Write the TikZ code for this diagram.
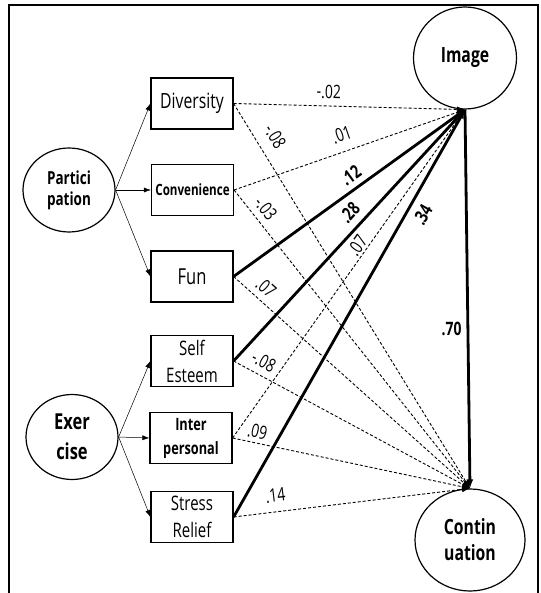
\documentclass[tikz,border=0pt]{standalone}
\usepackage{fontspec}
\setmainfont{Open Sans}[FakeStretch=0.75]
\usetikzlibrary{arrows.meta,shapes.geometric}

\tikzset{
  box/.style={draw,line width=1.2pt,minimum width=82pt,minimum height=51pt,inner sep=0pt,align=center},
  latent/.style={draw,ellipse,line width=1.2pt,inner sep=0pt,align=center,font=\bfseries},
  thin arrow/.style={-{Latex[length=7pt,width=5pt]},line width=0.5pt},
  ns/.style={dashed,dash pattern=on 3pt off 2pt,line width=0.9pt,-{Latex[length=8pt,width=6pt]}},
  sig/.style={line width=2.8pt,-{Latex[length=9pt,width=7pt]}},
  coef/.style={sloped,inner sep=1pt,font=\fontsize{18.5}{18.5}\selectfont},
  bcoef/.style={coef,font=\fontsize{18.5}{18.5}\selectfont\bfseries}
}

\begin{document}
\begin{tikzpicture}[x=1pt,y=-1pt]
  \useasboundingbox (0,0) rectangle (540,593);
  % frame
  \draw[line width=1.3pt] (9,600) -- (9,5) -- (538,5) -- (538,600);

  % latent variables
  \node[latent,minimum width=92pt,minimum height=84pt,font=\fontsize{18}{21}\selectfont\bfseries] (part) at (69,190) {Partici\\pation};
  \node[latent,minimum width=92pt,minimum height=85pt,font=\fontsize{22}{30}\selectfont\bfseries] (exer) at (72,437) {Exer\\cise};
  \node[latent,minimum width=103pt,minimum height=102pt,font=\fontsize{21}{21}\selectfont\bfseries] (img) at (465,58) {Image};
  \node[latent,minimum width=110pt,minimum height=102pt,font=\fontsize{21}{26}\selectfont\bfseries] (cont) at (470,540) {Contin\\uation};

  % observed variables
  \node[box,font=\fontsize{21}{21}\selectfont] (div) at (192,103.5) {Diversity};
  \node[box,font=\fontsize{15.5}{15.5}\selectfont\bfseries] (conv) at (192.5,190) {Convenience};
  \node[box,font=\fontsize{22}{22}\selectfont] (fun) at (192,276.5) {Fun};
  \node[box,font=\fontsize{20}{27}\selectfont] (self) at (192,361) {Self\\Esteem};
  \node[box,font=\fontsize{17}{24}\selectfont\bfseries] (inter) at (191,438) {Inter\\personal};
  \node[box,font=\fontsize{20}{27}\selectfont] (stress) at (192,517) {Stress\\Relief};

  \begin{scope}[thin arrow]
    \draw (part.east) to (div.west);
    \draw (part.east) to (conv.west);
    \draw (part.east) to (fun.west);
    \draw (exer.east) to (self.west);
    \draw (exer.east) to (inter.west);
    \draw (exer.east) to (stress.west);
  \end{scope}

  % paths to Image
  \draw[ns] (div.east) to node[coef,pos=0.41,above=6pt] {-.02} (img.south);
  \draw[ns] (conv.east) to node[coef,pos=0.49,above=8.5pt] {.01} (img.south);
  \draw[sig] (fun.east) to node[bcoef,pos=0.54,above=4pt] {.12} (img.south);
  \draw[sig] (self.east) to node[bcoef,pos=0.55,above=6pt] {.28} (img.south);
  \draw[ns] (inter.east) to node[coef,pos=0.57,above=1pt] {.07} (img.south);
  \draw[sig] (stress.east) to node[bcoef,pos=0.76,below=6pt] {.34} (img.south);

  % paths to Continuation
  \draw[ns] (div.east) to node[coef,pos=0.11,above=10pt] {-.08} (cont.north);
  \draw[ns] (conv.east) to node[coef,pos=0.09,above=5pt] {-.03} (cont.north);
  \draw[ns] (fun.east) to node[coef,pos=0.10,above=5pt] {.07} (cont.north);
  \draw[ns] (self.east) to node[coef,pos=0.10,above=5.5pt] {-.08} (cont.north);
  \draw[ns] (inter.east) to node[coef,pos=0.095,above=3pt] {.09} (cont.north);
  \draw[ns] (stress.east) to node[coef,pos=0.185,above=8pt] {.14} (cont.north);

  \draw[sig] (img.south) to node[bcoef,left=4pt,sloped=false,pos=0.58] {.70} (cont.north);
\end{tikzpicture}
\end{document}
